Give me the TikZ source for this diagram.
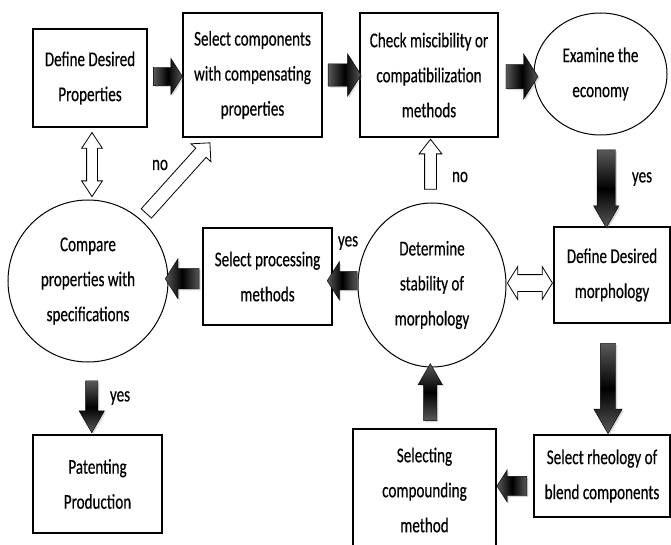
\documentclass[tikz,border=0pt]{standalone}
\usepackage{fontspec}
\setmainfont[FakeStretch=0.72,FakeBold=0.4]{Carlito}
\usetikzlibrary{shapes.geometric,shapes.arrows,calc,shadows}
\begin{document}
\begin{tikzpicture}[x=1pt,y=-1pt,
  txt/.style={font=\fontsize{21}{35}\selectfont, text=black},
  box/.style={txt, draw, line width=1.3pt, inner sep=0pt, align=center},
  oval/.style={txt, draw, ellipse, line width=1pt, inner sep=0pt, align=center},
  arr/.style n args={3}{minimum height=#1, inner xsep=0pt, inner ysep=#2/2,
     single arrow head extend=#3/2-#2/2},
  arrv/.style n args={3}{minimum height=#1, inner ysep=0pt, inner xsep=#2/2,
     single arrow head extend=#3/2-#2/2},
  darr/.style n args={3}{minimum height=#1, inner xsep=0pt, inner ysep=#2/2,
     double arrow head extend=#3/2-#2/2},
  darrv/.style n args={3}{minimum height=#1, inner ysep=0pt, inner xsep=#2/2,
     double arrow head extend=#3/2-#2/2},
  darkbase/.style={single arrow, draw=black, line width=0.4pt,
     drop shadow={opacity=0.3, shadow xshift=1.5pt, shadow yshift=-1.5pt}},
  darkh/.style={darkbase, left color=black!65, right color=black!65, middle color=black,
     single arrow tip angle=115},
  darkv/.style={darkbase, top color=black!65, bottom color=black!65, middle color=black,
     single arrow tip angle=60},
  whitea/.style={single arrow, draw=black, fill=white, line width=0.8pt},
  whited/.style={double arrow, draw=black, fill=white, line width=0.8pt},
  lab/.style={txt, inner sep=0pt}
]
\useasboundingbox (0,0) rectangle (671,545);
\fill[white] (0,0) rectangle (671,545);

% nodes
\node[box, minimum width=114, minimum height=98] (dp) at (90,78) {Define Desired\\Properties};
\node[box, minimum width=139, minimum height=124] (sc) at (252.5,75) {Select components\\with compensating\\properties};
\node[box, minimum width=138, minimum height=124] (cm) at (429,75) {Check miscibility or\\compatibilization\\methods};
\node[oval, minimum width=133, minimum height=122] (ex) at (600.5,74) {Examine the\\economy};
\node[oval, minimum width=160, minimum height=162] (cp) at (88,281) {Compare\\properties with\\specifications};
\node[box, minimum width=129, minimum height=97] (spm) at (267.5,276.5) {Select processing\\methods};
\node[oval, minimum width=148, minimum height=164] (ds) at (432,285) {Determine\\stability of\\morphology};
\node[box, minimum width=116, minimum height=96] (dm) at (612,275) {Define Desired\\morphology};
\node[box, minimum width=136, minimum height=82] (sr) at (602,476) {Select rheology of\\blend components};
\node[box, minimum width=143, minimum height=122] (sel) at (424.5,490) {Selecting\\compounding\\method};
\node[box, minimum width=129, minimum height=98] (pat) at (97.5,484) {Patenting\\Production};

% dark block arrows
\node[darkh, arr={29}{18}{36}] (a1) at ($(dp.east)!0.5!(sc.west)$) {};
\node[darkh, arr={33}{22}{42}] (a2) at ($(sc.east)!0.5!(cm.west)$) {};
\node[darkh, arr={32}{24}{45}] (a3) at ($(cm.east)!0.5!(ex.west)+(2,2)$) {};
\node[darkv, shape border rotate=270, arrv={78}{18}{25}] (a4) at ($(ex.south)!0.5!(dm.north)$) {};
\node[darkv, shape border rotate=270, arrv={90}{15}{28}] (a5) at ($(dm.south)!0.5!(sr.north)+(1,3)$) {};
\node[darkh, shape border rotate=180, arr={30}{19}{32}] (a6) at ($(sr.west)!0.5!(sel.east)+(0,3)$) {};
\node[darkv, shape border rotate=90, arrv={57}{13}{24}] (a7) at ($(sel.north)!0.5!(ds.south)+(2,0)$) {};
\node[darkh, shape border rotate=180, arr={30}{18}{38}] (a8) at ($(ds.west)!0.5!(spm.east)$) {};
\node[darkh, shape border rotate=180, arr={34}{20}{40}] (a9) at ($(spm.west)!0.5!(cp.east)$) {};
\node[darkv, shape border rotate=270, arrv={52}{12}{25}] (a10) at ($(cp.south)!0.5!(pat.north)+(-1,3)$) {};

% white arrows
\node[whited, shape border rotate=90, darrv={64}{10}{20}, double arrow tip angle=67] (w1) at ($(dp.south)!0.5!(cp.north)+(3,1)$) {};
\node[whitea, rotate=48, arr={95}{13}{26}, single arrow tip angle=90] (w2) at ($(cp.45)!0.5!(sc.south west)+(12,0)$) {};
\node[whitea, shape border rotate=90, arrv={50}{11}{22}, single arrow tip angle=76] (w3) at ($(ds.north)!0.5!(cm.south)+(0,-2)$) {};
\node[whited, darr={45}{16}{32}, double arrow tip angle=116] (w4) at ($(ds.east)!0.5!(dm.west)+(0,3)$) {};

% labels
\node[lab] (l1) at (160,165) {no};
\node[lab] (l2) at (460,177) {no};
\node[lab] (l3) at (642,179) {yes};
\node[lab] (l4) at (348,243) {yes};
\node[lab] (l5) at (120,398) {yes};
\end{tikzpicture}
\end{document}
